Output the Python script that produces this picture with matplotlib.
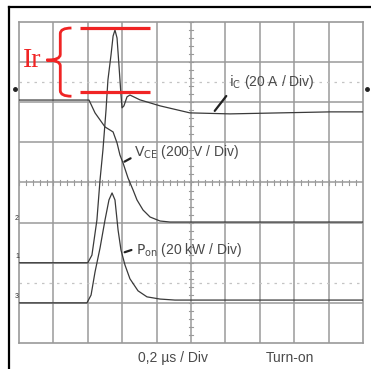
import matplotlib
matplotlib.use("Agg")
import matplotlib.pyplot as plt
from matplotlib.lines import Line2D
from matplotlib.path import Path
from matplotlib.patches import PathPatch

# --- scope settings ---
time_per_div = 0.2          # µs / div
n_xdiv, n_ydiv = 10, 8
IC_SCALE, VCE_SCALE, PON_SCALE = 20, 200, 20     # A/div, V/div, kW/div
IC_ZERO, VCE_ZERO, PON_ZERO = -2, -1, -3         # zero level of each channel (div)

# --- traces ---
t_ic = [0.0, 0.40, 0.424, 0.453, 0.471, 0.488, 0.506, 0.517, 0.535, 0.547, 0.558,
        0.570, 0.581, 0.593, 0.599, 0.610, 0.628, 0.645, 0.703, 0.820, 0.994,
        1.227, 1.517, 1.808, 2.0]
ic_a = [0, 0, 3.8, 21.3, 41.2, 56.2, 76.2, 91.1, 103.6, 113.0, 116.0,
        112.0, 98.6, 83.6, 77.2, 78.2, 82.7, 83.6, 81.2, 78.2, 74.7,
        74.2, 74.7, 75.2, 75.2]

t_vce = [0.0, 0.407, 0.442, 0.50, 0.547, 0.570, 0.587, 0.605, 0.634, 0.663,
         0.686, 0.721, 0.762, 0.820, 0.878, 2.0]
vce_v = [611, 611, 547, 477, 452, 397, 337, 297, 222, 163,
         113, 63, 28, 8, 3, 3]

t_pon = [0.0, 0.395, 0.419, 0.442, 0.471, 0.50, 0.523, 0.541, 0.558, 0.576,
         0.593, 0.616, 0.645, 0.692, 0.744, 0.820, 0.907, 2.0]
pon_kw = [0, 0, 3.9, 15.4, 27.3, 41.3, 51.3, 54.8, 51.3, 36.3,
          26.3, 18.9, 12.0, 6.0, 3.0, 1.9, 1.4, 1.4]

ir_top, ir_bottom = 117, 85     # A, reverse recovery marker levels


def to_div(vals, scale, zero):
    return [v / scale + zero for v in vals]


plt.rcParams['font.family'] = ['Liberation Sans Narrow', 'Liberation Sans', 'DejaVu Sans']
plt.rcParams['mathtext.fontset'] = 'custom'
plt.rcParams['mathtext.rm'] = 'Liberation Sans Narrow'
plt.rcParams['mathtext.it'] = 'Liberation Sans Narrow'

fig = plt.figure(figsize=(3.71, 3.69), dpi=100)
ax = fig.add_axes([19 / 371, 1 - 343 / 369, 344 / 371, 321 / 369])
xmax = n_xdiv * time_per_div
ax.set_xlim(0, xmax)
ax.set_ylim(-n_ydiv / 2, n_ydiv / 2)
ax.set_xticks([])
ax.set_yticks([])
for s in ax.spines.values():
    s.set_color('#9a9a9a')
    s.set_linewidth(1.2)

grid_c = '#9a9a9a'
for i in range(1, n_xdiv):
    ax.axvline(i * time_per_div, color=grid_c, lw=1.1, zorder=1)
for j in range(-n_ydiv // 2 + 1, n_ydiv // 2):
    ax.axhline(j, color=grid_c, lw=1.1, zorder=1)
# light cursor lines
for lev in (2.5, -2.5):
    ax.axhline(lev, color='#c4c4c4', lw=0.9, ls=(0, (2, 4)), zorder=1)
# minor ticks on the centre cross
for k in range(n_xdiv * 5 + 1):
    x = k * time_per_div / 5
    ax.plot([x, x], [-0.07, 0.07], color=grid_c, lw=0.8, zorder=1)
for k in range(n_ydiv * 5 + 1):
    y = -n_ydiv / 2 + k / 5
    ax.plot([xmax / 2 - 0.012, xmax / 2 + 0.012], [y, y], color=grid_c, lw=0.8, zorder=1)

trace_c = '#3a3a3a'
ax.plot(t_ic, to_div(ic_a, IC_SCALE, IC_ZERO), color=trace_c, lw=0.9, zorder=3)
ax.plot(t_vce, to_div(vce_v, VCE_SCALE, VCE_ZERO), color=trace_c, lw=0.9, zorder=3)
ax.plot(t_pon, to_div(pon_kw, PON_SCALE, PON_ZERO), color=trace_c, lw=0.9, zorder=3)

# labels with pointer lines
txt_c = '#4a4a4a'
fs = 10
ax.annotate("", xy=(1.128, 1.73), xytext=(1.215, 2.21),
            arrowprops=dict(arrowstyle='-', lw=1.6, color='#222'))
ax.text(1.222, 2.51, r"$\mathrm{i_C}$ (20 A / Div)", fontsize=fs, color=txt_c, va='center')
ax.annotate("", xy=(0.599, 0.486), xytext=(0.663, 0.636),
            arrowprops=dict(arrowstyle='-', lw=1.6, color='#222'))
ax.text(0.668, 0.76, r"$\mathrm{V_{CE}}$ (200 V / Div)", fontsize=fs, color=txt_c, va='center')
ax.annotate("", xy=(0.599, -1.76), xytext=(0.669, -1.66),
            arrowprops=dict(arrowstyle='-', lw=1.6, color='#222'))
ax.text(0.680, -1.68, r"$\mathrm{P_{on}}$ (20 kW / Div)", fontsize=fs, color=txt_c, va='center')

ax.text(0.895, -4.38, "0,2 µs / Div", fontsize=fs, color=txt_c, ha='center', va='center', clip_on=False)
ax.text(1.576, -4.38, "Turn-on", fontsize=fs, color=txt_c, ha='center', va='center', clip_on=False)

# reverse recovery annotation
red = '#f02424'
y_top = ir_top / IC_SCALE + IC_ZERO
y_bot = ir_bottom / IC_SCALE + IC_ZERO
ax.hlines([y_top, y_bot], 0.355, 0.762, color=red, lw=2.3, zorder=4)
x_end, x_sp, x_tip = 0.305, 0.240, 0.160
y_mid = (y_top + y_bot) / 2
d = 0.14
verts = [(x_end, y_top), (x_sp, y_top), (x_sp, y_top - d),
         (x_sp, y_mid + d), (x_sp, y_mid), (x_tip, y_mid),
         (x_sp, y_mid), (x_sp, y_mid - d),
         (x_sp, y_bot - 0.1 + d), (x_sp, y_bot - 0.1), (x_end, y_bot - 0.1)]
codes = [Path.MOVETO, Path.CURVE3, Path.CURVE3,
         Path.LINETO, Path.CURVE3, Path.CURVE3,
         Path.CURVE3, Path.CURVE3,
         Path.LINETO, Path.CURVE3, Path.CURVE3]
ax.add_patch(PathPatch(Path(verts, codes), fill=False, edgecolor=red, lw=2.0, zorder=4))
ax.text(0.076, y_mid, "Ir", fontsize=20, color=red, family='Liberation Serif',
        ha='center', va='center')

# channel markers outside the grid
ax.plot([-0.023, 2.023], [2.33, 2.33], ls='none', marker='o', ms=2.5, color='#222', clip_on=False)
for yy, s in ((-0.89, "2"), (-1.85, "1"), (-2.85, "3")):
    ax.text(-0.012, yy, s, fontsize=5, color='#333', ha='center', va='center', clip_on=False)

# outer black frame (left and top)
fig.add_artist(Line2D([9 / 371, 9 / 371], [0, 1 - 7 / 369], color='black', lw=1.6))
fig.add_artist(Line2D([9 / 371, 1], [1 - 7 / 369, 1 - 7 / 369], color='black', lw=1.6))

fig.savefig("out.png", dpi=100)
